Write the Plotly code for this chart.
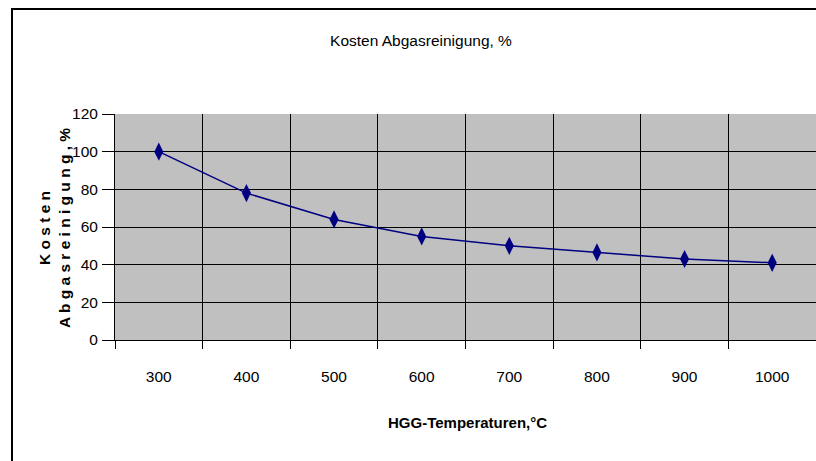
import plotly.graph_objects as go

# ---- data ----
temperatures = ["300", "400", "500", "600", "700", "800", "900", "1000"]
kosten = [100, 78, 64, 55, 50, 46.5, 43, 41]
y_ticks = [0, 20, 40, 60, 80, 100, 120]

title_text = "Kosten Abgasreinigung, %"
x_title = "HGG-Temperaturen,°C"
y_title_line1 = "K o s t e n"
y_title_line2 = "A b g a s r e i n i g u n g , %"

# ---- layout geometry (pixels) ----
W, H = 816, 461
L, R, T, B = 115, 0, 114, 121
PW, PH = W - L - R, H - T - B

def px_x(x):
    return (x - L) / PW

def px_y(y):
    return (H - B - y) / PH

FONT = "Liberation Sans, Arial, sans-serif"
FS = 15.5
NAVY = "#000080"

fig = go.Figure()
fig.add_trace(go.Scatter(
    x=temperatures, y=kosten, mode="lines+markers",
    line=dict(color=NAVY, width=1.5),
    marker=dict(symbol="diamond-tall", size=13, color=NAVY),
    showlegend=False, hoverinfo="x+y",
))

fig.update_layout(
    width=W, height=H,
    margin=dict(l=L, r=R, t=T, b=B, pad=0),
    paper_bgcolor="white",
    plot_bgcolor="#C0C0C0",
    font=dict(family=FONT, size=FS, color="black"),
    title=dict(text=title_text, x=421 / W, y=1 - 41 / H,
               xanchor="center", yanchor="middle", xref="container", yref="container",
               font=dict(family=FONT, size=FS, color="black")),
    xaxis=dict(
        type="category", tickson="boundaries", range=[-0.5, 7.5],
        showgrid=True, gridcolor="black", gridwidth=1,
        showline=True, linecolor="black", linewidth=1,
        ticks="outside", ticklen=8, tickcolor="black", tickwidth=1,
        ticklabelstandoff=22,
        tickfont=dict(family=FONT, size=FS, color="black"),
        fixedrange=True,
    ),
    yaxis=dict(
        range=[0, 120], tickvals=y_ticks,
        showgrid=True, gridcolor="black", gridwidth=1,
        showline=True, linecolor="black", linewidth=1,
        ticks="outside", ticklen=12, tickcolor="black", tickwidth=1,
        ticklabelstandoff=1,
        tickfont=dict(family=FONT, size=FS, color="black"),
        zeroline=False, fixedrange=True,
    ),
    annotations=[
        dict(text=f"<b>{x_title}</b>", xref="paper", yref="paper",
             x=px_x(467), y=px_y(422), xanchor="center", yanchor="middle",
             showarrow=False, font=dict(family=FONT, size=15, color="black")),
        dict(text=f"<b>{y_title_line1}<br>{y_title_line2}</b>", xref="paper", yref="paper",
             x=px_x(54), y=px_y(228), xanchor="center", yanchor="middle",
             textangle=-90, showarrow=False,
             font=dict(family=FONT, size=FS, color="black")),
    ],
    shapes=[
        dict(type="rect", xref="paper", yref="paper",
             x0=px_x(12), x1=px_x(W + 20), y0=px_y(H + 20), y1=px_y(9),
             line=dict(color="black", width=2), fillcolor="rgba(0,0,0,0)", layer="below"),
    ],
)

fig.write_html(
    "out.html",
    config={"displayModeBar": False},
    post_script="document.body.style.margin='0';document.body.style.overflow='hidden';",
)
